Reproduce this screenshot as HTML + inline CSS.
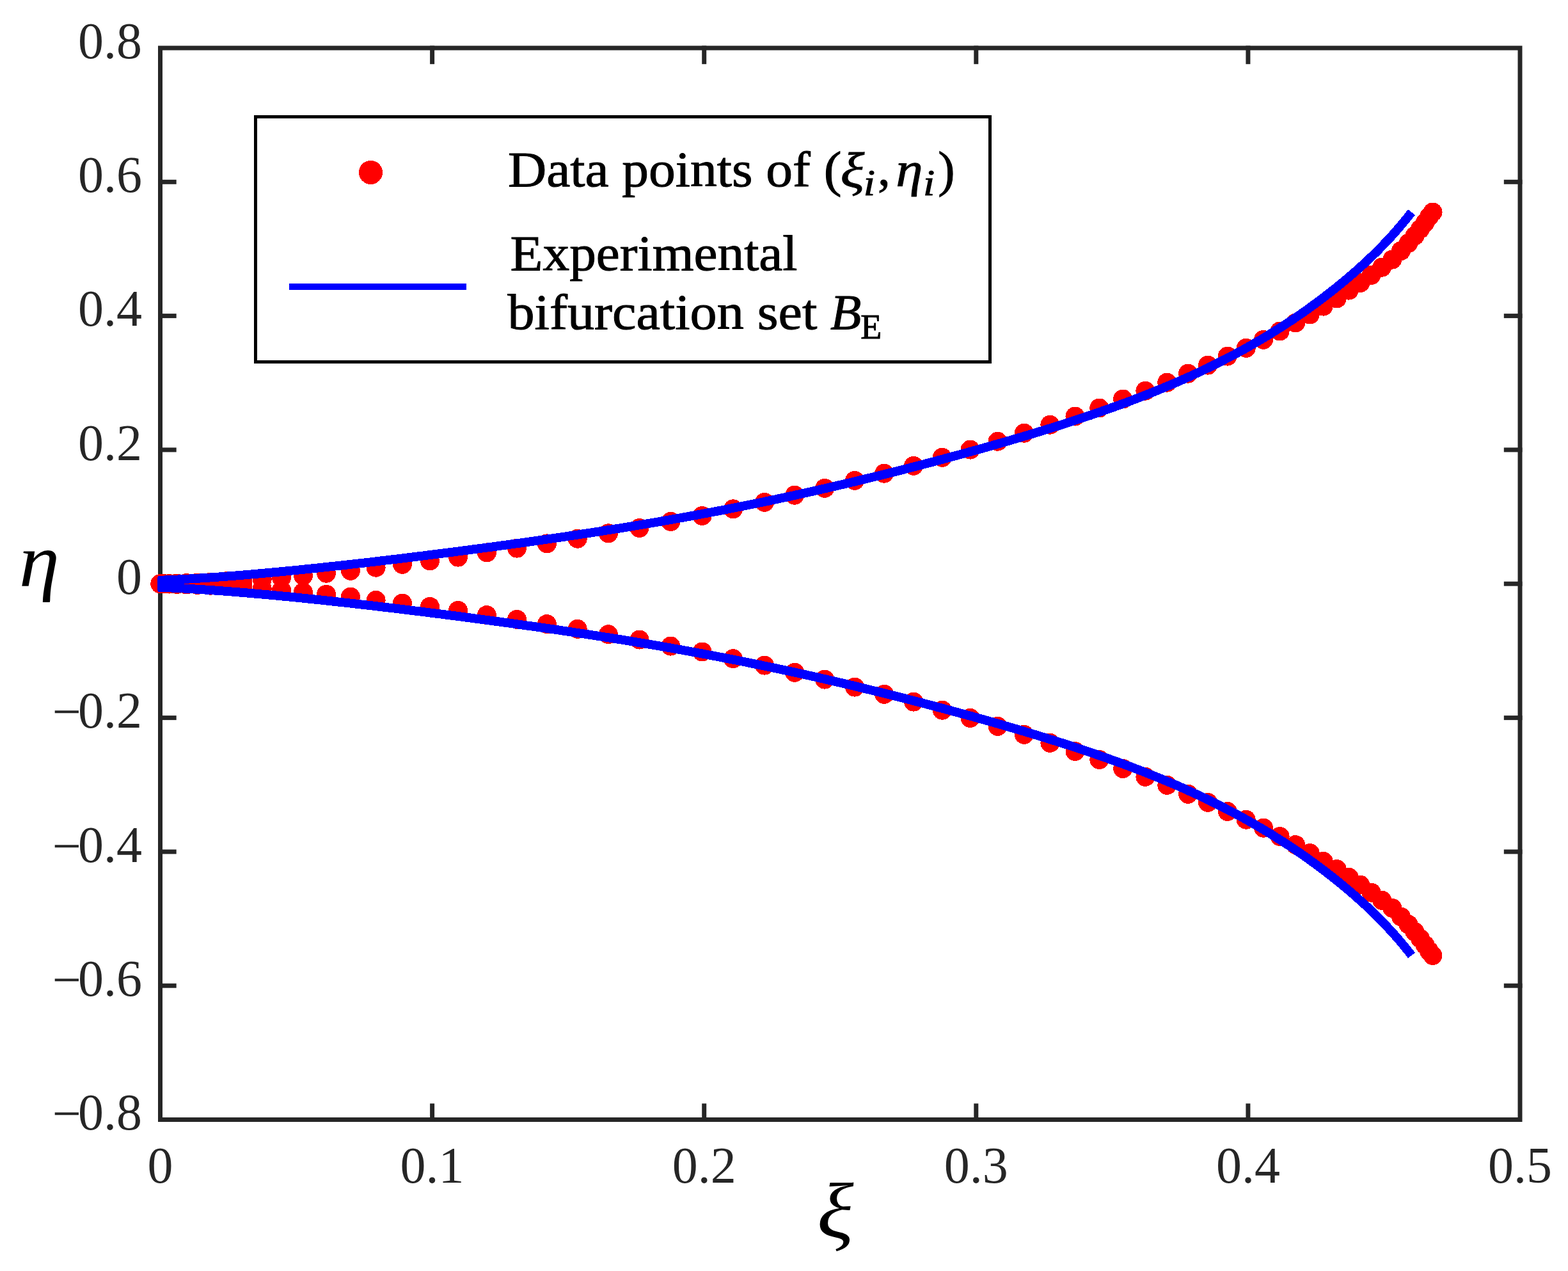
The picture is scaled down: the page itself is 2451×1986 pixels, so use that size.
<!DOCTYPE html>
<html><head><meta charset="utf-8"><title>Bifurcation set</title>
<style>html,body{margin:0;padding:0;background:#fff;overflow:hidden}svg{display:block}</style>
</head><body>
<svg width="2451" height="1986" viewBox="0 0 2451 1986">
<rect width="2451" height="1986" fill="#fff"/>
<g fill="none" stroke="#262626" stroke-width="7" stroke-linecap="square">
<rect x="250.5" y="75.0" width="2125.5" height="1674.5"/>
<line x1="675.6" y1="1749.5" x2="675.6" y2="1727.8"/><line x1="675.6" y1="75.0" x2="675.6" y2="96.7"/><line x1="1100.7" y1="1749.5" x2="1100.7" y2="1727.8"/><line x1="1100.7" y1="75.0" x2="1100.7" y2="96.7"/><line x1="1525.8" y1="1749.5" x2="1525.8" y2="1727.8"/><line x1="1525.8" y1="75.0" x2="1525.8" y2="96.7"/><line x1="1950.9" y1="1749.5" x2="1950.9" y2="1727.8"/><line x1="1950.9" y1="75.0" x2="1950.9" y2="96.7"/><line x1="250.5" y1="284.3" x2="272.2" y2="284.3"/><line x1="2376.0" y1="284.3" x2="2354.3" y2="284.3"/><line x1="250.5" y1="493.6" x2="272.2" y2="493.6"/><line x1="2376.0" y1="493.6" x2="2354.3" y2="493.6"/><line x1="250.5" y1="702.9" x2="272.2" y2="702.9"/><line x1="2376.0" y1="702.9" x2="2354.3" y2="702.9"/><line x1="250.5" y1="912.2" x2="272.2" y2="912.2"/><line x1="2376.0" y1="912.2" x2="2354.3" y2="912.2"/><line x1="250.5" y1="1121.6" x2="272.2" y2="1121.6"/><line x1="2376.0" y1="1121.6" x2="2354.3" y2="1121.6"/><line x1="250.5" y1="1330.9" x2="272.2" y2="1330.9"/><line x1="2376.0" y1="1330.9" x2="2354.3" y2="1330.9"/><line x1="250.5" y1="1540.2" x2="272.2" y2="1540.2"/><line x1="2376.0" y1="1540.2" x2="2354.3" y2="1540.2"/>
</g>
<g font-family="'Liberation Serif', serif" font-size="80" fill="#262626">
<text x="222" y="90.7" text-anchor="end">0.8</text><text x="222" y="300.0" text-anchor="end">0.6</text><text x="222" y="509.3" text-anchor="end">0.4</text><text x="222" y="718.6" text-anchor="end">0.2</text><text x="222" y="928.0" text-anchor="end">0</text><text y="1137.3" text-anchor="end"><tspan x="126.8" dy="2">−</tspan><tspan x="222" dy="-2">0.2</tspan></text><text y="1346.6" text-anchor="end"><tspan x="126.8" dy="2">−</tspan><tspan x="222" dy="-2">0.4</tspan></text><text y="1555.9" text-anchor="end"><tspan x="126.8" dy="2">−</tspan><tspan x="222" dy="-2">0.6</tspan></text><text y="1765.2" text-anchor="end"><tspan x="126.8" dy="2">−</tspan><tspan x="222" dy="-2">0.8</tspan></text><text x="250.5" y="1848.3" text-anchor="middle">0</text><text x="675.6" y="1848.3" text-anchor="middle">0.1</text><text x="1100.7" y="1848.3" text-anchor="middle">0.2</text><text x="1525.8" y="1848.3" text-anchor="middle">0.3</text><text x="1950.9" y="1848.3" text-anchor="middle">0.4</text><text x="2376.0" y="1848.3" text-anchor="middle">0.5</text>
</g>
<g fill="#f00" shape-rendering="crispEdges"><circle cx="250.3" cy="912.2" r="15"/><circle cx="252.0" cy="912.2" r="15"/><circle cx="256.8" cy="912.1" r="15"/><circle cx="264.5" cy="912.0" r="15"/><circle cx="276.5" cy="911.6" r="15"/><circle cx="291.3" cy="911.0" r="15"/><circle cx="308.5" cy="910.5" r="15"/><circle cx="328.6" cy="909.8" r="15"/><circle cx="353.2" cy="908.3" r="15"/><circle cx="379.5" cy="906.9" r="15"/><circle cx="409.7" cy="904.8" r="15"/><circle cx="440.0" cy="902.4" r="15"/><circle cx="473.9" cy="899.3" r="15"/><circle cx="510.0" cy="895.7" r="15"/><circle cx="547.9" cy="891.8" r="15"/><circle cx="587.6" cy="886.7" r="15"/><circle cx="628.9" cy="881.8" r="15"/><circle cx="672.0" cy="876.5" r="15"/><circle cx="716.0" cy="870.6" r="15"/><circle cx="760.9" cy="863.4" r="15"/><circle cx="808.0" cy="856.6" r="15"/><circle cx="854.9" cy="849.4" r="15"/><circle cx="902.7" cy="841.7" r="15"/><circle cx="950.9" cy="833.3" r="15"/><circle cx="999.5" cy="825.0" r="15"/><circle cx="1048.4" cy="814.9" r="15"/><circle cx="1097.6" cy="806.0" r="15"/><circle cx="1145.9" cy="795.3" r="15"/><circle cx="1195.0" cy="784.9" r="15"/><circle cx="1242.2" cy="773.7" r="15"/><circle cx="1289.1" cy="762.9" r="15"/><circle cx="1336.0" cy="750.9" r="15"/><circle cx="1382.2" cy="739.7" r="15"/><circle cx="1428.0" cy="727.9" r="15"/><circle cx="1472.8" cy="714.8" r="15"/><circle cx="1516.6" cy="702.6" r="15"/><circle cx="1559.5" cy="689.7" r="15"/><circle cx="1600.8" cy="676.7" r="15"/><circle cx="1641.4" cy="663.7" r="15"/><circle cx="1680.5" cy="650.5" r="15"/><circle cx="1718.3" cy="637.5" r="15"/><circle cx="1755.2" cy="623.5" r="15"/><circle cx="1790.4" cy="610.7" r="15"/><circle cx="1824.3" cy="597.7" r="15"/><circle cx="1857.1" cy="583.7" r="15"/><circle cx="1888.0" cy="570.6" r="15"/><circle cx="1918.7" cy="556.6" r="15"/><circle cx="1947.7" cy="543.8" r="15"/><circle cx="1975.0" cy="530.8" r="15"/><circle cx="2000.6" cy="517.5" r="15"/><circle cx="2025.1" cy="504.5" r="15"/><circle cx="2047.7" cy="491.5" r="15"/><circle cx="2068.6" cy="478.6" r="15"/><circle cx="2089.6" cy="466.5" r="15"/><circle cx="2108.5" cy="453.6" r="15"/><circle cx="2126.3" cy="441.9" r="15"/><circle cx="2143.6" cy="429.8" r="15"/><circle cx="2160.2" cy="417.7" r="15"/><circle cx="2176.3" cy="405.6" r="15"/><circle cx="2190.0" cy="392.0" r="15"/><circle cx="2201.5" cy="380.0" r="15"/><circle cx="2211.5" cy="368.5" r="15"/><circle cx="2220.0" cy="358.0" r="15"/><circle cx="2227.5" cy="348.0" r="15"/><circle cx="2234.0" cy="338.5" r="15"/><circle cx="2239.5" cy="331.5" r="15"/><circle cx="250.3" cy="912.3" r="15"/><circle cx="252.0" cy="912.3" r="15"/><circle cx="256.8" cy="912.4" r="15"/><circle cx="264.5" cy="912.5" r="15"/><circle cx="276.5" cy="912.9" r="15"/><circle cx="291.3" cy="913.5" r="15"/><circle cx="308.5" cy="914.0" r="15"/><circle cx="328.6" cy="914.7" r="15"/><circle cx="353.2" cy="916.2" r="15"/><circle cx="379.5" cy="917.6" r="15"/><circle cx="409.7" cy="919.7" r="15"/><circle cx="440.0" cy="922.1" r="15"/><circle cx="473.9" cy="925.2" r="15"/><circle cx="510.0" cy="928.8" r="15"/><circle cx="547.9" cy="932.7" r="15"/><circle cx="587.6" cy="937.8" r="15"/><circle cx="628.9" cy="942.7" r="15"/><circle cx="672.0" cy="948.0" r="15"/><circle cx="716.0" cy="953.9" r="15"/><circle cx="760.9" cy="961.1" r="15"/><circle cx="808.0" cy="967.9" r="15"/><circle cx="854.9" cy="975.1" r="15"/><circle cx="902.7" cy="982.8" r="15"/><circle cx="950.9" cy="991.2" r="15"/><circle cx="999.5" cy="999.5" r="15"/><circle cx="1048.4" cy="1009.6" r="15"/><circle cx="1097.6" cy="1018.5" r="15"/><circle cx="1145.9" cy="1029.2" r="15"/><circle cx="1195.0" cy="1039.6" r="15"/><circle cx="1242.2" cy="1050.8" r="15"/><circle cx="1289.1" cy="1061.6" r="15"/><circle cx="1336.0" cy="1073.6" r="15"/><circle cx="1382.2" cy="1084.8" r="15"/><circle cx="1428.0" cy="1096.6" r="15"/><circle cx="1472.8" cy="1109.7" r="15"/><circle cx="1516.6" cy="1121.9" r="15"/><circle cx="1559.5" cy="1134.8" r="15"/><circle cx="1600.8" cy="1147.8" r="15"/><circle cx="1641.4" cy="1160.8" r="15"/><circle cx="1680.5" cy="1174.0" r="15"/><circle cx="1718.3" cy="1187.0" r="15"/><circle cx="1755.2" cy="1201.0" r="15"/><circle cx="1790.4" cy="1213.8" r="15"/><circle cx="1824.3" cy="1226.8" r="15"/><circle cx="1857.1" cy="1240.8" r="15"/><circle cx="1888.0" cy="1253.9" r="15"/><circle cx="1918.7" cy="1267.9" r="15"/><circle cx="1947.7" cy="1280.7" r="15"/><circle cx="1975.0" cy="1293.7" r="15"/><circle cx="2000.6" cy="1307.0" r="15"/><circle cx="2025.1" cy="1320.0" r="15"/><circle cx="2047.7" cy="1333.0" r="15"/><circle cx="2068.6" cy="1345.9" r="15"/><circle cx="2089.6" cy="1358.0" r="15"/><circle cx="2108.5" cy="1370.9" r="15"/><circle cx="2126.3" cy="1382.6" r="15"/><circle cx="2143.6" cy="1394.7" r="15"/><circle cx="2160.2" cy="1406.8" r="15"/><circle cx="2176.3" cy="1418.9" r="15"/><circle cx="2190.0" cy="1432.5" r="15"/><circle cx="2201.5" cy="1444.5" r="15"/><circle cx="2211.5" cy="1456.0" r="15"/><circle cx="2220.0" cy="1466.5" r="15"/><circle cx="2227.5" cy="1476.5" r="15"/><circle cx="2234.0" cy="1486.0" r="15"/><circle cx="2239.5" cy="1493.0" r="15"/></g>
<rect x="246" y="899.8" width="12" height="25" rx="4" fill="#00f" shape-rendering="crispEdges"/>
<g fill="none" stroke="#00f" stroke-width="14" stroke-linejoin="round" shape-rendering="crispEdges">
<polyline points="247.0,907.0 261.7,906.3 276.5,905.6 291.2,904.8 305.9,903.9 320.7,903.0 335.4,902.0 350.1,900.9 364.8,899.8 379.6,898.6 394.3,897.3 409.0,896.0 423.8,894.7 438.5,893.3 453.2,891.9 468.0,890.4 482.7,888.9 497.4,887.4 512.2,885.8 526.9,884.2 541.6,882.6 556.4,880.9 571.1,879.3 585.8,877.6 600.5,875.8 615.3,874.1 630.0,872.3 644.7,870.5 659.5,868.7 674.2,866.8 688.9,865.0 703.7,863.1 718.4,861.2 733.1,859.3 747.9,857.3 762.6,855.4 777.3,853.4 792.1,851.4 806.8,849.4 821.5,847.3 836.2,845.3 851.0,843.2 865.7,841.1 880.4,838.9 895.2,836.7 909.9,834.5 924.6,832.3 939.4,830.0 954.1,827.7 968.8,825.4 983.6,823.0 998.3,820.5 1013.0,818.1 1027.7,815.6 1042.5,813.0 1057.2,810.4 1071.9,807.8 1086.7,805.1 1101.4,802.4 1116.1,799.6 1130.9,796.8 1145.6,793.9 1160.3,791.0 1175.1,788.0 1189.8,785.0 1204.5,782.0 1219.3,778.8 1234.0,775.7 1248.7,772.5 1263.4,769.2 1278.2,765.9 1292.9,762.5 1307.6,759.1 1322.4,755.7 1337.1,752.2 1351.8,748.6 1366.6,745.0 1381.3,741.4 1396.0,737.7 1410.8,734.0 1425.5,730.2 1440.2,726.4 1454.9,722.5 1469.7,718.6 1484.4,714.6 1499.1,710.6 1513.9,706.6 1528.6,702.5 1543.3,698.4 1558.1,694.2 1572.8,689.9 1587.5,685.6 1602.3,681.2 1617.0,676.8 1631.7,672.3 1646.5,667.7 1661.2,663.1 1675.9,658.3 1690.6,653.4 1705.4,648.5 1720.1,643.4 1734.8,638.2 1749.6,632.9 1764.3,627.5 1779.0,621.9 1793.8,616.1 1808.5,610.2 1823.2,604.1 1838.0,597.9 1852.7,591.4 1867.4,584.7 1882.2,577.8 1896.9,570.6 1911.6,563.2 1926.3,555.6 1941.1,547.7 1955.8,539.4 1970.5,530.9 1985.3,522.0 2000.0,512.8 2005.3,509.4 2010.6,506.0 2015.9,502.5 2021.2,499.0 2026.5,495.4 2031.8,491.8 2037.1,488.1 2042.4,484.4 2047.7,480.6 2052.9,476.7 2058.2,472.8 2063.5,468.9 2068.8,464.9 2074.1,460.8 2079.4,456.7 2084.7,452.5 2090.0,448.3 2095.3,444.0 2100.6,439.6 2105.9,435.2 2111.2,430.7 2116.5,426.1 2121.8,421.4 2127.1,416.7 2132.4,411.9 2137.7,407.0 2143.0,401.9 2148.3,396.8 2153.6,391.6 2158.8,386.2 2164.1,380.8 2169.4,375.2 2174.7,369.4 2180.0,363.6 2185.3,357.5 2190.6,351.3 2195.9,344.9 2201.2,338.4 2206.5,331.6"/>
<polyline points="247.0,917.5 261.7,918.2 276.5,918.9 291.2,919.7 305.9,920.6 320.7,921.5 335.4,922.5 350.1,923.6 364.8,924.7 379.6,925.9 394.3,927.2 409.0,928.5 423.8,929.8 438.5,931.2 453.2,932.6 468.0,934.1 482.7,935.6 497.4,937.1 512.2,938.7 526.9,940.3 541.6,941.9 556.4,943.6 571.1,945.2 585.8,946.9 600.5,948.7 615.3,950.4 630.0,952.2 644.7,954.0 659.5,955.8 674.2,957.7 688.9,959.5 703.7,961.4 718.4,963.3 733.1,965.2 747.9,967.2 762.6,969.1 777.3,971.1 792.1,973.1 806.8,975.1 821.5,977.2 836.2,979.2 851.0,981.3 865.7,983.4 880.4,985.6 895.2,987.8 909.9,990.0 924.6,992.2 939.4,994.5 954.1,996.8 968.8,999.1 983.6,1001.5 998.3,1004.0 1013.0,1006.4 1027.7,1008.9 1042.5,1011.5 1057.2,1014.1 1071.9,1016.7 1086.7,1019.4 1101.4,1022.1 1116.1,1024.9 1130.9,1027.7 1145.6,1030.6 1160.3,1033.5 1175.1,1036.5 1189.8,1039.5 1204.5,1042.5 1219.3,1045.7 1234.0,1048.8 1248.7,1052.0 1263.4,1055.3 1278.2,1058.6 1292.9,1062.0 1307.6,1065.4 1322.4,1068.8 1337.1,1072.3 1351.8,1075.9 1366.6,1079.5 1381.3,1083.1 1396.0,1086.8 1410.8,1090.5 1425.5,1094.3 1440.2,1098.1 1454.9,1102.0 1469.7,1105.9 1484.4,1109.9 1499.1,1113.9 1513.9,1117.9 1528.6,1122.0 1543.3,1126.1 1558.1,1130.3 1572.8,1134.6 1587.5,1138.9 1602.3,1143.3 1617.0,1147.7 1631.7,1152.2 1646.5,1156.8 1661.2,1161.4 1675.9,1166.2 1690.6,1171.1 1705.4,1176.0 1720.1,1181.1 1734.8,1186.3 1749.6,1191.6 1764.3,1197.0 1779.0,1202.6 1793.8,1208.4 1808.5,1214.3 1823.2,1220.4 1838.0,1226.6 1852.7,1233.1 1867.4,1239.8 1882.2,1246.7 1896.9,1253.9 1911.6,1261.3 1926.3,1268.9 1941.1,1276.8 1955.8,1285.1 1970.5,1293.6 1985.3,1302.5 2000.0,1311.7 2005.3,1315.1 2010.6,1318.5 2015.9,1322.0 2021.2,1325.5 2026.5,1329.1 2031.8,1332.7 2037.1,1336.4 2042.4,1340.1 2047.7,1343.9 2052.9,1347.8 2058.2,1351.7 2063.5,1355.6 2068.8,1359.6 2074.1,1363.7 2079.4,1367.8 2084.7,1372.0 2090.0,1376.2 2095.3,1380.5 2100.6,1384.9 2105.9,1389.3 2111.2,1393.8 2116.5,1398.4 2121.8,1403.1 2127.1,1407.8 2132.4,1412.6 2137.7,1417.5 2143.0,1422.6 2148.3,1427.7 2153.6,1432.9 2158.8,1438.3 2164.1,1443.7 2169.4,1449.3 2174.7,1455.1 2180.0,1460.9 2185.3,1467.0 2190.6,1473.2 2195.9,1479.6 2201.2,1486.1 2206.5,1492.9"/>
</g>
<g font-family="'Liberation Serif', serif" fill="#000" font-style="italic">
<text transform="translate(29.7,916) scale(1.08,1)" font-size="118">η</text>
<text transform="translate(1277,1933.8) scale(1.095,1)" font-size="122.4">ξ</text>
</g>
<rect x="399.5" y="182.5" width="1148" height="383" fill="#fff" stroke="#000" stroke-width="5"/>
<circle cx="579.5" cy="269.4" r="18.6" fill="#f00" shape-rendering="crispEdges"/>
<rect x="452" y="443" width="277" height="10" fill="#00f"/>
<g font-family="'Liberation Serif', serif" font-size="79" fill="#000" stroke="#000" stroke-width="1">
<text transform="translate(793.9,290.5) scale(1.057,1)">Data points of (</text>
<text transform="translate(1313.7,292.6) scale(1.12,1)" font-size="78" font-style="italic">ξ</text>
<text transform="translate(1349.8,305.2) scale(1.15,1)" font-size="57" font-style="italic">i</text>
<text transform="translate(1372.1,289)">,</text>
<text transform="translate(1400.4,290.5) scale(1.11,1)" font-size="76" font-style="italic">η</text>
<text transform="translate(1443.1,305.2) scale(1.15,1)" font-size="57" font-style="italic">i</text>
<text transform="translate(1466.2,291.4)">)</text>
<text transform="translate(797.6,422) scale(1.055,1)">Experimental</text>
<text transform="translate(793.4,514) scale(1.066,1)">bifurcation set</text>
<text transform="translate(1298.1,513.7)" font-style="italic">B</text>
<text transform="translate(1345.2,528.9)" font-size="54">E</text>
</g>
</svg>
</body></html>
